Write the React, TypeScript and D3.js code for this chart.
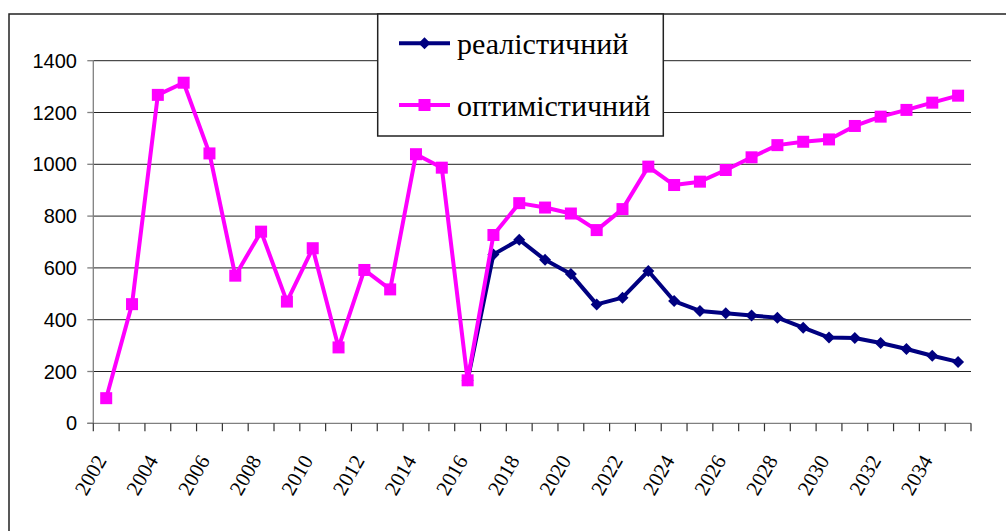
import React from "react";
import * as d3 from "d3";

const years: number[] = [
  2002, 2003, 2004, 2005, 2006, 2007, 2008, 2009, 2010, 2011, 2012, 2013,
  2014, 2015, 2016, 2017, 2018, 2019, 2020, 2021, 2022, 2023, 2024, 2025,
  2026, 2027, 2028, 2029, 2030, 2031, 2032, 2033, 2034, 2035,
];

const optimistic: number[] = [
  97, 460, 1268, 1315, 1042, 570, 740, 470, 676, 293, 592, 517, 1039, 987,
  166, 727, 850, 833, 810, 746, 827, 991, 920, 933, 978, 1027, 1074, 1087,
  1096, 1148, 1184, 1210, 1238, 1265,
];

const realisticYears: number[] = [
  2016, 2017, 2018, 2019, 2020, 2021, 2022, 2023, 2024, 2025, 2026, 2027,
  2028, 2029, 2030, 2031, 2032, 2033, 2034, 2035,
];
const realistic: number[] = [
  166, 652, 709, 631, 576, 459, 485, 588, 472, 434, 425, 416, 408, 369, 331,
  329, 310, 287, 261, 237,
];

const yTicks: number[] = [0, 200, 400, 600, 800, 1000, 1200, 1400];
const xLabelYears: number[] = years.filter((y) => y % 2 === 0);

const seriesNames = ["реалістичний", "оптимістичний"];

const NAVY = "#000080";
const PINK = "#FF00FF";

export default function App() {
  const W = 1006;
  const H = 531;
  const left = 93.3;
  const right = 971;
  const top = 60.7;
  const bottom = 423.3;

  const x = d3.scaleBand<number>().domain(years).range([left, right]).padding(0);
  const cx = (yr: number) => (x(yr) as number) + x.bandwidth() / 2;
  const y = d3.scaleLinear().domain([0, 1400]).range([bottom, top]);

  const line = d3
    .line<[number, number]>()
    .x((d) => cx(d[0]))
    .y((d) => y(d[1]));

  const optData: [number, number][] = years.map((yr, i) => [yr, optimistic[i]]);
  const realData: [number, number][] = realisticYears.map((yr, i) => [yr, realistic[i]]);

  const bw = x.bandwidth();
  const boundaries = d3.range(years.length + 1).map((k) => left + k * bw);

  const sq = 12;
  const dm = 6;
  const diamond = (px: number, py: number) =>
    `M${px},${py - dm}L${px + dm},${py}L${px},${py + dm}L${px - dm},${py}Z`;

  const legX = 377.7;
  const legY = 14;
  const legW = 285.6;
  const legH = 122;

  return (
    <svg width={W} height={H} style={{ position: "absolute", left: 0, top: 0 }}>
      <rect x={0} y={0} width={W} height={H} fill="#fff" />
      <path d={`M9,${H + 2}L9,14L${W + 2},14`} fill="none" stroke="#222" strokeWidth={1.5} />

      {yTicks.map((t) =>
        t === 0 ? null : (
          <line key={"g" + t} x1={left} x2={right} y1={y(t)} y2={y(t)} stroke="#222" strokeWidth={1} />
        )
      )}

      <line x1={left} x2={left} y1={top} y2={bottom} stroke="#808080" strokeWidth={1.3} />
      <g fontFamily="Liberation Sans, Arial, sans-serif" fontSize={20}>
        {yTicks.map((t) => (
          <g key={"yt" + t}>
            <line x1={left - 6} x2={left} y1={y(t)} y2={y(t)} stroke="#808080" strokeWidth={1.3} />
            <text x={77} y={y(t)} dy="0.35em" textAnchor="end" fill="#000">
              {t}
            </text>
          </g>
        ))}
      </g>

      <line x1={left - 6} x2={right} y1={bottom} y2={bottom} stroke="#808080" strokeWidth={1.3} />
      {boundaries.map((bx, i) => (
        <line key={"xt" + i} x1={bx} x2={bx} y1={bottom} y2={bottom + 8} stroke="#333" strokeWidth={1.2} />
      ))}
      <g fontFamily="Times New Roman, Liberation Serif, serif" fontSize={21}>
        {xLabelYears.map((yr) => (
          <text
            key={"xl" + yr}
            transform={`translate(${cx(yr) + 1},${bottom + 37}) rotate(-60)`}
            textAnchor="end"
            fill="#000"
          >
            {yr}
          </text>
        ))}
      </g>

      <path d={line(realData) || ""} fill="none" stroke={NAVY} strokeWidth={4} strokeLinejoin="round" />
      {realData.map((d, i) => (
        <path key={"rd" + i} d={diamond(cx(d[0]), y(d[1]))} fill={NAVY} />
      ))}

      <path d={line(optData) || ""} fill="none" stroke={PINK} strokeWidth={4} strokeLinejoin="round" />
      {optData.map((d, i) => (
        <rect key={"od" + i} x={cx(d[0]) - sq / 2} y={y(d[1]) - sq / 2} width={sq} height={sq} fill={PINK} />
      ))}

      <rect x={legX} y={legY} width={legW} height={legH} fill="#fff" stroke="#222" strokeWidth={1.5} />
      <line x1={399} x2={450} y1={43.3} y2={43.3} stroke={NAVY} strokeWidth={4} />
      <path d={diamond(424.5, 43.3)} fill={NAVY} />
      <line x1={399} x2={450} y1={105} y2={105} stroke={PINK} strokeWidth={4} />
      <rect x={424.5 - sq / 2} y={105 - sq / 2} width={sq} height={sq} fill={PINK} />
      <g fontFamily="serif" fontSize={30}>
        <text x={457} y={54} fill="#000">
          {seriesNames[0]}
        </text>
        <text x={457} y={116} fill="#000">
          {seriesNames[1]}
        </text>
      </g>
    </svg>
  );
}
